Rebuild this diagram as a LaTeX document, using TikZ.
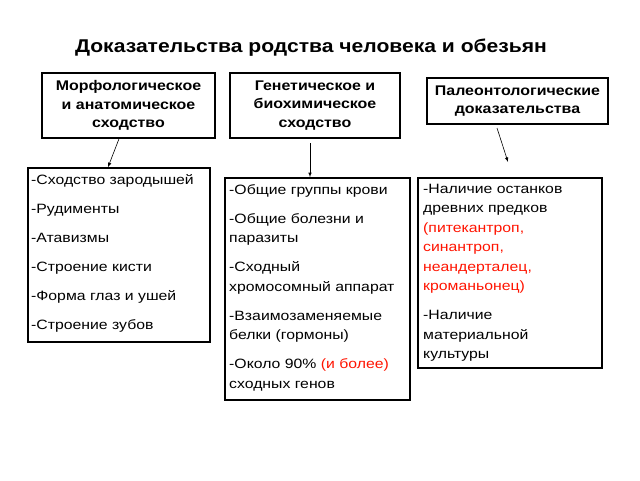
\documentclass[tikz,border=0pt]{standalone}
\usepackage{fontspec}
\setmainfont{Liberation Sans}
\newfontfamily\bodyf[FakeStretch=1.17]{Liberation Sans}
\newfontfamily\headf[FakeStretch=1.14]{Liberation Sans}
\newfontfamily\titlef[FakeStretch=1.14]{Liberation Sans}
\begin{document}
\begin{tikzpicture}[x=1pt,y=-1pt,
  box/.style={draw,line width=1.6pt,inner sep=0pt},
  head/.style={font=\headf\fontsize{14}{18.5}\selectfont\bfseries,align=center},
  body/.style={font=\bodyf\fontsize{13.5}{19.5}\selectfont,align=left,anchor=north west,inner sep=0pt},
  arr/.style={-latex,line width=0.6pt}]
\useasboundingbox (0,0) rectangle (640,480);
\node[font=\titlef\fontsize{18.5}{22}\selectfont\bfseries] (title) at (311,48) {Доказательства родства человека и обезьян};
\node[box,minimum width=173,minimum height=65] (t1) at (128.5,105.5) {};
\node[head] at (t1) {Морфологическое\\и анатомическое\\сходство};
\node[box,minimum width=170,minimum height=65] (t2) at (315,105.5) {};
\node[head] at (t2) {Генетическое и\\биохимическое\\сходство};
\node[box,minimum width=181,minimum height=46] (t3) at (517.5,101) {};
\node[head] at (t3) {Палеонтологические\\доказательства};
\node[box,minimum width=182,minimum height=174] (b1) at (119,255) {};
\node[box,minimum width=185,minimum height=222] (b2) at (317.5,289) {};
\node[box,minimum width=184,minimum height=190] (b3) at (510,273) {};
\node[body] (x1) at (31,174) {-Сходство зародышей\\[9.5pt]-Рудименты\\[9.5pt]-Атавизмы\\[9.5pt]-Строение кисти\\[9.5pt]-Форма глаз и ушей\\[9.5pt]-Строение зубов};
\node[body] (x2) at (229,184) {-Общие группы крови\\[9.5pt]-Общие болезни и\\паразиты\\[9.5pt]-Сходный\\хромосомный аппарат\\[9.5pt]-Взаимозаменяемые\\белки (гормоны)\\[9.5pt]-Около 90\% \textcolor{red!85!orange}{(и более)}\\сходных генов};
\node[body] (x3) at (423,184) {-Наличие останков\\древних предков\\\textcolor{red!85!orange}{(питекантроп,}\\\textcolor{red!85!orange}{синантроп,}\\\textcolor{red!85!orange}{неандерталец,}\\\textcolor{red!85!orange}{кроманьонец)}\\[9.5pt]-Наличие\\материальной\\культуры};
\coordinate (e3) at (508,162);
\draw[arr] (t1.south -| 119,0) -- (b1.north -| 108,0);
\draw[arr] (310,143) -- (b2.north -| 310,0);
\draw[arr] (497,128) -- (e3);
\end{tikzpicture}
\end{document}
